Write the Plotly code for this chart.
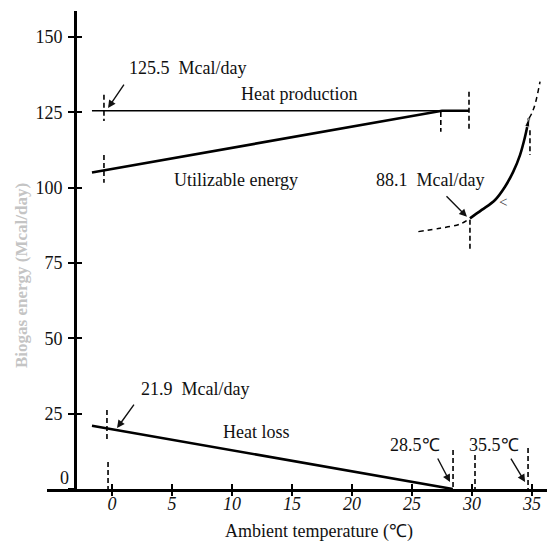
import plotly.graph_objects as go

# ---- data ----
x_ticks = [0, 5, 10, 15, 20, 25, 30, 35]
x_ticktext = ["0", "5", "10", "15", "20", "25", "30", "35"]
y_ticks = [0, 25, 50, 75, 100, 125, 150]
y_ticktext = ["", "25", "50", "75", "100", "125", "150"]

heat_prod_x = [-1.67, 29.75]
heat_prod_y = [125.5, 125.5]

util_x = [-1.67, 27.5, 29.75]
util_y = [105.0, 125.5, 125.5]

loss_x = [-1.67, 28.4]
loss_y = [21.0, 0.0]

curve_x = [29.83, 30.81, 31.92, 32.75, 33.44, 34.0, 34.42, 34.75]
curve_y = [89.8, 92.6, 95.9, 100.3, 105.3, 110.8, 116.9, 123.0]

curve_dash_up_x = [34.75, 35.0, 35.28, 35.67]
curve_dash_up_y = [123.0, 124.8, 128.0, 135.2]
curve_dash_left_x = [25.53, 27.33, 29.0, 29.83]
curve_dash_left_y = [85.4, 86.5, 87.9, 89.8]

# vertical dashed markers: (x, y_top, y_bottom)
vmarks_x = [-0.67, -0.67, -0.42, -0.33, 27.4, 29.75, 29.83, 34.83, 28.42, 30.25, 34.67]
vmarks_top = [130.8, 110.8, 26.2, 9.0, 125.1, 131.8, 89.3, 119.0, 12.9, 11.3, 13.6]
vmarks_bot = [122.1, 101.6, 16.6, 0.0, 118.5, 119.1, 79.3, 110.8, 0.0, 0.0, 0.0]

labels = ["125.5  Mcal/day", "Heat production", "Utilizable energy", "88.1  Mcal/day",
          "21.9  Mcal/day", "Heat loss", "28.5℃", "35.5℃"]
labels_x = [6.25, 15.58, 10.33, 26.5, 6.9, 12.08, 25.25, 31.83]
labels_y = [139.7, 131.1, 102.5, 102.5, 33.2, 18.9, 14.6, 14.6]

arrow_tail_x = [1.08, 27.75, 1.92, 27.08, 33.17]
arrow_tail_y = [134.7, 97.6, 28.5, 10.6, 10.6]
arrow_head_x = [-0.33, 29.58, 0.42, 28.17, 34.42]
arrow_head_y = [126.4, 90.3, 20.2, 2.3, 2.3]

XR = [-5.417, 36.25]
YR = [0, 158.6]
FONT = "Liberation Serif, Times New Roman, serif"

fig = go.Figure()

fig.add_trace(go.Scatter(x=heat_prod_x, y=heat_prod_y, mode="lines",
                         line=dict(color="black", width=1.6), hoverinfo="skip"))
fig.add_trace(go.Scatter(x=util_x, y=util_y, mode="lines",
                         line=dict(color="black", width=2.6), hoverinfo="skip"))
fig.add_trace(go.Scatter(x=loss_x, y=loss_y, mode="lines",
                         line=dict(color="black", width=2.6), hoverinfo="skip"))
fig.add_trace(go.Scatter(x=curve_x, y=curve_y, mode="lines+markers",
                         line=dict(color="black", width=2.6, shape="spline"),
                         marker=dict(symbol="arrow", angleref="previous",
                                     size=[0] * (len(curve_x) - 1) + [9], color="black"),
                         hoverinfo="skip"))
fig.add_trace(go.Scatter(x=curve_dash_up_x, y=curve_dash_up_y, mode="lines",
                         line=dict(color="black", width=1.5, dash="5px,4px", shape="spline"),
                         hoverinfo="skip"))
fig.add_trace(go.Scatter(x=curve_dash_left_x, y=curve_dash_left_y, mode="lines",
                         line=dict(color="black", width=1.5, dash="5px,4px", shape="spline"),
                         hoverinfo="skip"))

# vertical dashed markers
vx, vy = [], []
for x, t, b in zip(vmarks_x, vmarks_top, vmarks_bot):
    vx += [x, x, None]
    vy += [t, b, None]
fig.add_trace(go.Scatter(x=vx, y=vy, mode="lines",
                         line=dict(color="black", width=1.6, dash="5px,3px"),
                         hoverinfo="skip"))

# overlay trace so the crossing-tick axes render
fig.add_trace(go.Scatter(x=[None], y=[None], xaxis="x2", yaxis="y2", hoverinfo="skip"))

annotations = []
for t, x, y in zip(labels, labels_x, labels_y):
    annotations.append(dict(x=x, y=y, xref="x", yref="y", text=t, showarrow=False,
                            font=dict(family=FONT, size=18, color="#111")))
for tx, ty, hx, hy in zip(arrow_tail_x, arrow_tail_y, arrow_head_x, arrow_head_y):
    annotations.append(dict(x=hx, y=hy, ax=tx, ay=ty, xref="x", yref="y",
                            axref="x", ayref="y", text="", showarrow=True,
                            arrowhead=2, arrowsize=1.1, arrowwidth=1.4,
                            arrowcolor="#111", standoff=0))
# direction chevron on curve
annotations.append(dict(x=32.6, y=95.3, xref="x", yref="y", text="<", showarrow=False,
                        font=dict(family=FONT, size=15, color="#333")))
# "0" y tick label sits slightly above the x axis line
annotations.append(dict(x=0.022, y=3.6, xref="paper", yref="y", text="0", showarrow=False,
                        font=dict(family=FONT, size=18, color="#111")))
# axis titles
annotations.append(dict(x=(319 - 47) / 500, y=(489 - 531) / 478, xref="paper", yref="paper",
                        xanchor="center", yanchor="middle",
                        text="Ambient temperature (℃)", showarrow=False,
                        font=dict(family=FONT, size=18, color="#111")))
annotations.append(dict(x=(21 - 47) / 500, y=(489 - 276) / 478, xref="paper", yref="paper",
                        xanchor="center", yanchor="middle",
                        text="<b>Biogas energy (Mcal/day)</b>", textangle=-90, showarrow=False,
                        font=dict(family=FONT, size=17, color="#c4c4c4")))

ypos = (75 - 47) / 500

fig.update_layout(
    width=554, height=541,
    template="none",
    showlegend=False,
    paper_bgcolor="white", plot_bgcolor="white",
    margin=dict(l=47, r=7, t=11, b=52, autoexpand=False),
    font=dict(family=FONT, size=18, color="#111"),
    xaxis=dict(range=XR, domain=[0, 1], anchor="y", showgrid=False, zeroline=False,
               showline=True, linecolor="black", linewidth=2.6,
               ticks="outside", ticklen=4, tickwidth=2, tickcolor="black",
               ticklabelstandoff=-7,
               tickvals=x_ticks, ticktext=["<i>" + t + "</i>" for t in x_ticktext],
               tickfont=dict(family=FONT, size=18, color="#111"), automargin=False),
    yaxis=dict(range=YR, domain=[0, 1], anchor="free", position=ypos, showgrid=False,
               zeroline=False, showline=True, linecolor="black", linewidth=2.6,
               ticks="outside", ticklen=6, tickwidth=2, tickcolor="black",
               ticklabelstandoff=2,
               tickvals=y_ticks, ticktext=y_ticktext,
               tickfont=dict(family=FONT, size=18, color="#111"), automargin=False),
    xaxis2=dict(range=XR, domain=[0, 1], overlaying="x", anchor="y2", showgrid=False,
                zeroline=False, showline=False, ticks="inside", ticklen=5, tickwidth=2,
                tickcolor="black", tickvals=x_ticks, showticklabels=False, automargin=False),
    yaxis2=dict(range=YR, domain=[0, 1], overlaying="y", anchor="free", position=ypos,
                side="left", showgrid=False, zeroline=False, showline=False,
                ticks="inside", ticklen=6, tickwidth=2, tickcolor="black",
                tickvals=y_ticks, showticklabels=False, automargin=False),
    annotations=annotations,
)

fig.write_html("out.html")
